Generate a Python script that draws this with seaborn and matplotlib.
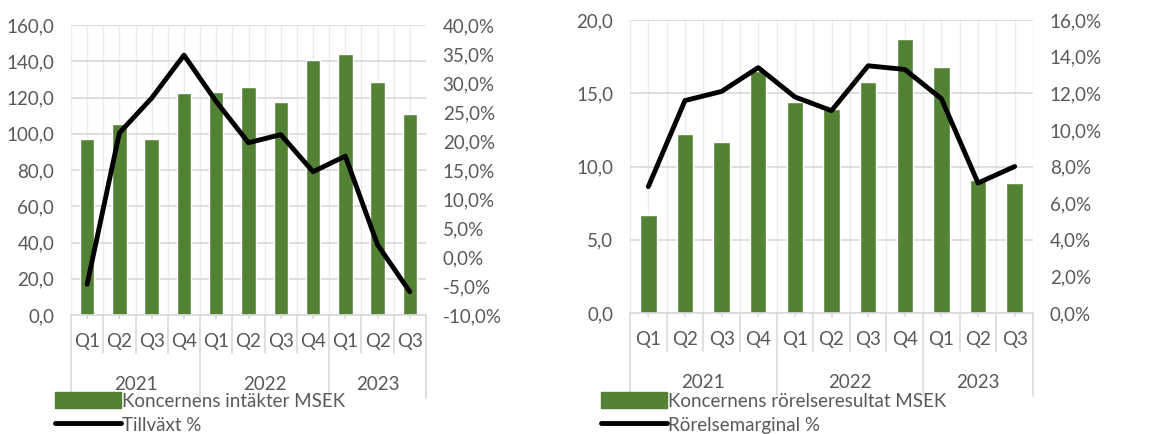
import numpy as np
import pandas as pd
import seaborn as sns
import matplotlib.pyplot as plt
from matplotlib.patches import Patch
from matplotlib.lines import Line2D
from matplotlib.ticker import FuncFormatter, MultipleLocator

# data
quarters = ['Q1', 'Q2', 'Q3', 'Q4', 'Q1', 'Q2', 'Q3', 'Q4', 'Q1', 'Q2', 'Q3']
years = ['2021', '2022', '2023']
year_sizes = [4, 4, 3]

intakter = [97.1, 105.2, 97.3, 122.7, 123.0, 126.0, 117.7, 140.7, 144.2, 128.6, 110.9]
tillvaxt = [-4.7, 21.4, 27.4, 34.8, 26.8, 19.7, 21.1, 14.7, 17.4, 2.1, -6.0]

rorelseresultat = [6.7, 12.2, 11.7, 16.5, 14.4, 13.9, 15.8, 18.7, 16.8, 9.1, 8.9]
rorelsemarginal = [6.9, 11.6, 12.1, 13.4, 11.8, 11.05, 13.5, 13.3, 11.7, 7.1, 8.0]

GREEN = '#548235'
GREY = '#595959'
GRID = '#d9d9d9'
FS = 13.5

sns.set_theme(style='white')
plt.rcParams['font.family'] = ['Lato', 'DejaVu Sans']

fig = plt.figure(figsize=(11.51, 4.34), dpi=100)


def comma(fmt):
    return FuncFormatter(lambda v, p: fmt.format(v).replace('.', ','))


def draw_panel(rect, bars, line, ylim, ystep, y2lim, y2step, bar_label, line_label, legend_x):
    ax = fig.add_axes(rect)
    df = pd.DataFrame({'pos': [f'{i}' for i in range(len(quarters))], 'val': bars})
    sns.barplot(data=df, x='pos', y='val', color=GREEN, width=0.45, ax=ax,
                saturation=1, zorder=2)
    ax.set_xlim(-0.5, len(quarters) - 0.5)
    ax.set_ylim(*ylim)
    ax.yaxis.set_major_locator(MultipleLocator(ystep))
    ax.yaxis.set_major_formatter(comma('{:.1f}'))
    ax.set_xlabel('')
    ax.set_ylabel('')
    ax.set_xticks(range(len(quarters)))
    ax.set_xticklabels(quarters)
    ax.set_xticks(np.arange(-0.5, len(quarters), 1), minor=True)
    ax.grid(True, axis='y', color=GRID, lw=1.2, zorder=0)
    ax.grid(True, axis='x', which='both', color='#ececec', lw=1.0, zorder=0)
    ax.set_axisbelow(True)
    for s in ['left', 'right', 'top']:
        ax.spines[s].set_visible(False)
    ax.spines['bottom'].set_color(GRID)
    ax.spines['bottom'].set_linewidth(1.2)
    ax.tick_params(axis='x', which='major', length=3, color=GRID, pad=10,
                   labelsize=FS, labelcolor=GREY, bottom=True)
    ax.tick_params(axis='x', which='minor', length=0)
    ax.tick_params(axis='y', length=0, labelsize=FS, labelcolor=GREY, pad=12)

    # two-level category axis
    h = rect[3] * 434
    start = -0.5
    trans = ax.get_xaxis_transform()
    for yr, n in zip(years, year_sizes):
        ax.text(start + n / 2, -69 / h, yr, transform=trans, ha='center',
                va='center', fontsize=FS, color=GREY)
        start += n
    bounds = np.cumsum([0] + year_sizes) - 0.5
    for b in np.arange(-0.5, len(quarters), 1):
        low = -83 / h if b in bounds else -38 / h
        ax.plot([b, b], [0, low], transform=trans, color=GRID, lw=1.2, clip_on=False)

    ax2 = ax.twinx()
    sns.lineplot(x=np.arange(len(line)), y=line, color='black', lw=3.5, ax=ax2,
                 solid_capstyle='round', solid_joinstyle='round', zorder=3)
    ax2.set_ylim(*y2lim)
    ax2.yaxis.set_major_locator(MultipleLocator(y2step))
    ax2.yaxis.set_major_formatter(comma('{:.1f}%'))
    ax2.tick_params(axis='y', length=0, labelsize=FS, labelcolor=GREY, pad=12)
    ax2.grid(False)
    for s in ax2.spines.values():
        s.set_visible(False)
    ax2.set_xlim(-0.5, len(quarters) - 0.5)

    handles = [Patch(facecolor=GREEN, edgecolor=GREEN),
               Line2D([0], [0], color='black', lw=3.5, solid_capstyle='round')]
    fig.legend(handles, [bar_label, line_label], loc='upper left',
               bbox_to_anchor=(legend_x / 1151, 1 - 392 / 434), frameon=False,
               fontsize=FS, labelcolor=GREY, handlelength=3.5, handleheight=0.95,
               handletextpad=0.1, labelspacing=0.35, borderpad=0, borderaxespad=0)


draw_panel([71 / 1151, 119 / 434, 355 / 1151, 290 / 434], intakter, tillvaxt,
           (0, 160), 20, (-10, 40), 5,
           'Koncernens intäkter MSEK', 'Tillväxt %', 55)
draw_panel([630 / 1151, 121 / 434, 403 / 1151, 293 / 434], rorelseresultat, rorelsemarginal,
           (0, 20), 5, (0, 16), 2,
           'Koncernens rörelseresultat MSEK', 'Rörelsemarginal %', 601)

fig.savefig('out.png', dpi=100)
